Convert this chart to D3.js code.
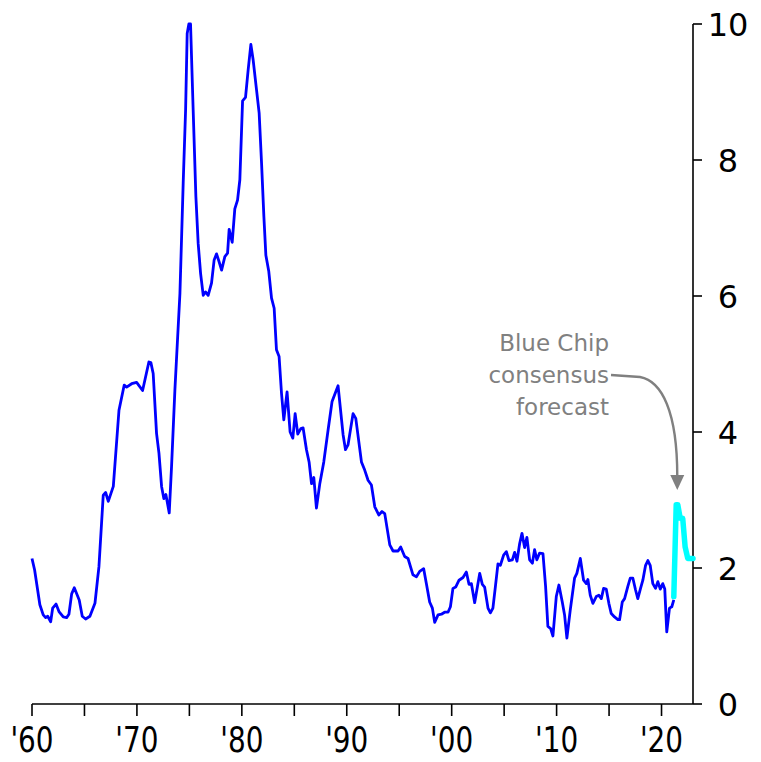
<!DOCTYPE html>
<html>
<head>
<meta charset="utf-8">
<script src="https://cdn.jsdelivr.net/npm/d3@7"></script>
<style>
  html, body { margin: 0; padding: 0; background: #fff; }
  svg { display: block; }
</style>
</head>
<body>
<svg id="chart" width="761" height="762"></svg>
<script>
// ---- Data ----
const histYears = [
  1960.0,1960.25,1960.75,1961.07,1961.3,1961.5,1961.78,1961.97,1962.29,1962.57,1962.98,1963.3,1963.52,1963.78,
  1964.03,1964.5,1964.79,1965.11,1965.52,1966.0,1966.38,1966.79,1967.02,1967.27,1967.75,1968.29,1968.79,1969.02,
  1969.5,1969.97,1970.54,1971.14,1971.33,1971.55,1971.87,1972.1,1972.35,1972.57,1972.76,1973.08,1973.3,1973.62,
  1974.1,1974.41,1974.64,1974.79,1974.95,1975.11,1975.36,1975.62,1975.84,1976.07,1976.32,1976.54,1976.79,1977.11,
  1977.36,1977.59,1977.84,1978.07,1978.38,1978.64,1978.79,1979.08,1979.33,1979.59,1979.81,1980.07,1980.35,1980.6,
  1980.86,1981.08,1981.4,1981.65,1981.88,1982.1,1982.29,1982.57,1982.83,1983.08,1983.3,1983.55,1983.78,1984.0,
  1984.31,1984.6,1984.86,1985.08,1985.33,1985.62,1985.84,1986.16,1986.41,1986.64,1986.86,1987.11,1987.43,1987.81,
  1988.22,1988.6,1989.17,1989.65,1989.88,1990.12,1990.6,1990.86,1991.4,1991.71,1992.03,1992.35,1992.67,1993.05,
  1993.36,1993.62,1994.1,1994.41,1994.89,1995.14,1995.52,1995.84,1996.31,1996.64,1996.95,1997.33,1997.59,1997.9,
  1998.16,1998.38,1998.7,1999.02,1999.33,1999.65,1999.88,2000.12,2000.38,2000.7,2001.08,2001.4,2001.65,2001.88,
  2002.19,2002.67,2002.92,2003.14,2003.46,2003.69,2003.93,2004.16,2004.41,2004.64,2004.95,2005.21,2005.46,2005.78,
  2006.0,2006.22,2006.48,2006.7,2006.95,2007.17,2007.43,2007.69,2007.9,2008.12,2008.38,2008.7,2008.95,2009.17,
  2009.43,2009.65,2009.97,2010.22,2010.54,2010.76,2010.98,2011.3,2011.71,2011.93,2012.26,2012.57,2012.83,2012.98,
  2013.21,2013.46,2013.78,2014.03,2014.26,2014.48,2014.73,2014.98,2015.21,2015.52,2015.84,2016.0,2016.26,2016.48,
  2016.79,2017.02,2017.27,2017.52,2017.74,2018.0,2018.22,2018.48,2018.7,2018.92,2019.17,2019.43,2019.65,2019.88,
  2020.12,2020.31,2020.5,2020.76,2020.98,2021.17
];
const histValues = [
  2.14,1.97,1.46,1.31,1.27,1.29,1.21,1.41,1.47,1.36,1.28,1.27,1.32,1.62,
  1.71,1.53,1.29,1.25,1.29,1.48,2.02,3.07,3.11,2.98,3.20,4.32,4.69,4.66,
  4.71,4.73,4.61,5.03,5.02,4.86,3.98,3.69,3.20,3.02,3.08,2.81,3.49,4.62,
  6.04,7.66,8.74,9.86,10.0,10.0,8.74,7.46,6.77,6.33,6.01,6.06,6.01,6.19,
  6.53,6.62,6.50,6.38,6.58,6.63,6.98,6.79,7.28,7.41,7.71,8.87,8.92,9.32,
  9.70,9.47,9.03,8.69,7.95,7.17,6.60,6.36,5.97,5.82,5.21,5.11,4.57,4.18,
  4.59,4.00,3.91,4.27,3.97,4.05,4.06,3.74,3.56,3.24,3.33,2.88,3.24,3.56,
  4.03,4.45,4.68,3.96,3.74,3.81,4.27,4.20,3.56,3.44,3.29,3.22,2.90,2.78,
  2.83,2.80,2.34,2.25,2.25,2.31,2.17,2.14,1.90,1.87,1.95,1.99,1.77,1.50,
  1.41,1.20,1.31,1.32,1.35,1.35,1.43,1.70,1.72,1.82,1.86,1.94,1.76,1.77,
  1.49,1.92,1.76,1.72,1.41,1.34,1.41,1.72,2.06,2.04,2.19,2.24,2.11,2.12,
  2.23,2.10,2.36,2.51,2.30,2.45,2.12,2.07,2.27,2.12,2.22,2.21,1.73,1.14,
  1.11,1.00,1.58,1.75,1.50,1.31,0.97,1.38,1.85,1.92,2.14,1.82,1.77,1.83,
  1.60,1.48,1.58,1.60,1.55,1.70,1.69,1.48,1.33,1.28,1.24,1.24,1.50,1.55,
  1.73,1.85,1.85,1.68,1.55,1.70,1.82,2.04,2.11,2.04,1.77,1.70,1.80,1.69,
  1.77,1.69,1.06,1.41,1.43,1.53
];
const forecastYears  = [2021.17, 2021.4, 2021.55, 2021.78, 2022.02, 2022.25, 2022.5, 2023.0];
const forecastValues = [1.58,    2.93,   2.93,    2.73,    2.73,    2.31,    2.14,   2.14];

const xTickYears  = [1960,1965,1970,1975,1980,1985,1990,1995,2000,2005,2010,2015,2020];
const xLabelYears = [1960,1970,1980,1990,2000,2010,2020];
const xLabels     = ["'60","'70","'80","'90","'00","'10","'20"];
const yTicks      = [0,2,4,6,8,10];
const annotationLines = ["Blue Chip","consensus","forecast"];

// ---- Layout ----
const svg = d3.select("#chart");
const x = d3.scaleLinear().domain([1960, 2023]).range([32, 693]);
const y = d3.scaleLinear().domain([0, 10]).range([704, 24]);

// x axis
const xAxis = svg.append("g").attr("transform", `translate(0,${y(0)})`);
xAxis.append("line").attr("x1", x(1960)).attr("x2", x(2023))
  .attr("stroke", "#000").attr("stroke-width", 1.6);
xAxis.selectAll("line.tick").data(xTickYears).join("line")
  .attr("class","tick")
  .attr("x1", d => x(d)).attr("x2", d => x(d))
  .attr("y1", 0).attr("y2", 12)
  .attr("stroke", "#000").attr("stroke-width", 1.6);
xAxis.selectAll("text").data(xLabelYears).join("text")
  .attr("transform", d => `translate(${x(d)},48) scale(1,1.12)`)
  .attr("text-anchor", "middle")
  .attr("font-family", "'DejaVu Sans Condensed', 'DejaVu Sans', sans-serif")
  .attr("font-size", 31)
  .attr("fill", "#000")
  .text((d, i) => xLabels[i]);

// y axis (right)
const yAxis = svg.append("g").attr("transform", `translate(${x(2023)},0)`);
yAxis.append("line").attr("y1", y(10)).attr("y2", y(0))
  .attr("stroke", "#000").attr("stroke-width", 1.6);
yAxis.selectAll("line.tick").data(yTicks).join("line")
  .attr("class","tick")
  .attr("x1", 0).attr("x2", 9)
  .attr("y1", d => y(d)).attr("y2", d => y(d))
  .attr("stroke", "#000").attr("stroke-width", 1.6);
yAxis.selectAll("text").data(yTicks).join("text")
  .attr("x", 35).attr("y", d => y(d))
  .attr("dy", "0.36em")
  .attr("text-anchor", "middle")
  .attr("font-family", "'DejaVu Sans', Verdana, sans-serif")
  .attr("font-size", 32)
  .attr("fill", "#000")
  .text(d => d);

// lines
const line = d3.line().x(d => x(d[0])).y(d => y(d[1]));
const hist = histYears.map((yr, i) => [yr, histValues[i]]);
const fc = forecastYears.map((yr, i) => [yr, forecastValues[i]]);

svg.append("path").datum(hist).attr("d", line)
  .attr("fill", "none").attr("stroke", "#0000ff")
  .attr("stroke-width", 2.8).attr("stroke-linejoin", "round");
svg.append("path").datum(fc).attr("d", line)
  .attr("fill", "none").attr("stroke", "#00ffff")
  .attr("stroke-width", 5.5).attr("stroke-linejoin", "round").attr("stroke-linecap", "round");

// annotation
const ann = svg.append("g");
ann.selectAll("text").data(annotationLines).join("text")
  .attr("x", 609).attr("y", (d, i) => 351 + i * 32)
  .attr("text-anchor", "end")
  .attr("font-family", "'DejaVu Sans', Verdana, sans-serif")
  .attr("font-size", 23)
  .attr("fill", "#808080")
  .text(d => d);

const tipX = x(2021.5), tipY = 490;
ann.append("path")
  .attr("d", `M611,375 L640,377 C662,381 ${tipX},412 ${tipX},${tipY - 14}`)
  .attr("fill", "none").attr("stroke", "#808080").attr("stroke-width", 2.4);
ann.append("path")
  .attr("d", `M${tipX - 7},${tipY - 15} L${tipX + 7},${tipY - 15} L${tipX},${tipY} Z`)
  .attr("fill", "#808080");
</script>
</body>
</html>
